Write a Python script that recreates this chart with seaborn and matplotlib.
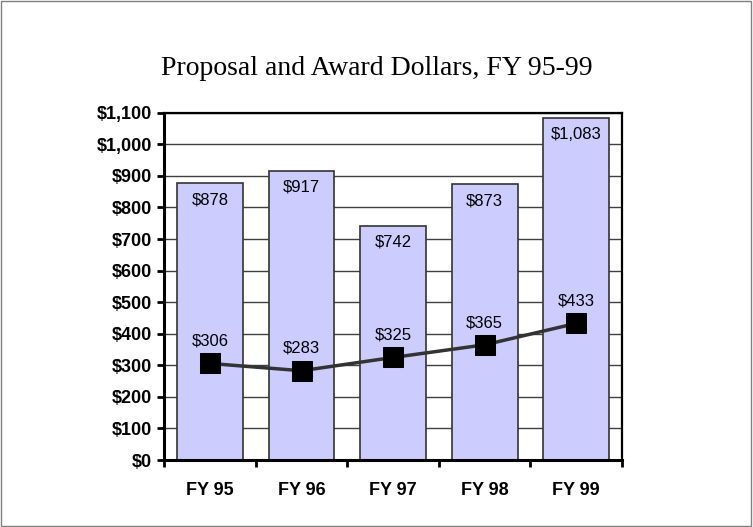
import matplotlib
matplotlib.use("Agg")
import matplotlib.pyplot as plt
import seaborn as sns
import numpy as np
import pandas as pd
from matplotlib.ticker import FuncFormatter, MultipleLocator, FixedLocator
from matplotlib.patches import Rectangle

years = ["FY 95", "FY 96", "FY 97", "FY 98", "FY 99"]
proposals = [878, 917, 742, 873, 1083]
awards = [306, 283, 325, 365, 433]

sns.set_style("white")
plt.rcParams['font.family'] = ['Liberation Sans', 'DejaVu Sans']
plt.rcParams['text.color'] = 'black'
plt.rcParams['xtick.color'] = 'black'
plt.rcParams['ytick.color'] = 'black'

df = pd.DataFrame({"year": years, "proposal": proposals, "award": awards})

fig = plt.figure(figsize=(7.53, 5.27), dpi=100)
ax = fig.add_axes([0.218, 0.127, 0.608, 0.659])

# outer border of the figure
fig.patches.append(Rectangle((0.001, 0.002), 0.997, 0.996, transform=fig.transFigure,
                             fill=False, edgecolor='#808080', linewidth=1))

sns.barplot(data=df, x="year", y="proposal", color='#ccccff', edgecolor='#333333',
            linewidth=1.2, width=0.72, saturation=1, ax=ax, zorder=2)
sns.lineplot(x=np.arange(len(years)), y=awards, ax=ax, color='#333333', linewidth=2.5,
             marker='s', markersize=14, markerfacecolor='black', markeredgecolor='black',
             zorder=3)

for i, v in enumerate(proposals):
    ax.annotate(f"${v:,}", (i, v), xytext=(0, -12), textcoords='offset points',
                ha='center', va='center', fontsize=12, zorder=4)
for i, v in enumerate(awards):
    ax.annotate(f"${v:,}", (i, v), xytext=(0, 16), textcoords='offset points',
                ha='center', va='center', fontsize=12, zorder=4)

ax.set_ylim(0, 1100)
ax.set_xlim(-0.5, 4.5)
ax.yaxis.set_major_locator(MultipleLocator(100))
ax.yaxis.set_major_formatter(FuncFormatter(lambda v, p: f"${int(v):,}"))
ax.yaxis.grid(True, color='#404040', linewidth=1, zorder=0)
ax.set_axisbelow(True)
ax.xaxis.set_minor_locator(FixedLocator(np.arange(-0.5, 5, 1)))
ax.tick_params(axis='x', which='major', length=0, pad=16)
ax.tick_params(axis='x', which='minor', length=5, width=2, direction='out', color='black', bottom=True)
ax.tick_params(axis='y', length=5, width=2, direction='out', color='black', left=True, pad=4)
for lbl in ax.get_xticklabels() + ax.get_yticklabels():
    lbl.set_fontweight('bold')
    lbl.set_fontsize(13)
ax.set_xlabel("")
ax.set_ylabel("")
for side in ['left', 'bottom']:
    ax.spines[side].set_linewidth(2.2)
    ax.spines[side].set_color('black')
for side in ['top', 'right']:
    ax.spines[side].set_linewidth(1.6)
    ax.spines[side].set_color('black')

fig.text(0.5, 0.87, "Proposal and Award Dollars, FY 95-99", ha='center', va='center',
         fontsize=20, family=['Liberation Serif', 'DejaVu Serif'])

fig.savefig("out.png", dpi=100)
